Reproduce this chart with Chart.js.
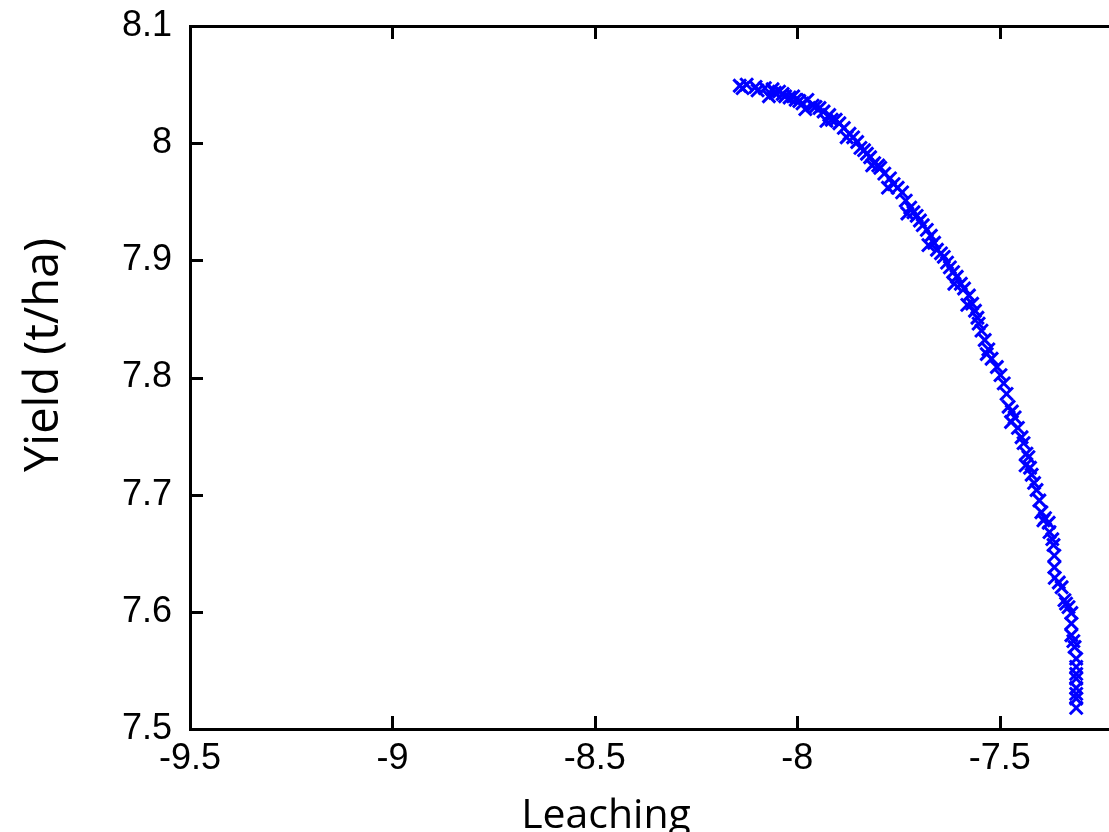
<!DOCTYPE html>
<html>
<head>
<meta charset="utf-8">
<script src="https://cdn.jsdelivr.net/npm/chart.js@4.4.1/dist/chart.umd.min.js"></script>
<style>
html, body { margin: 0; padding: 0; background: #fff; overflow: hidden; }
</style>
</head>
<body>
<canvas id="canvas" width="1109" height="832"></canvas>
<script>
const leaching = [
    -8.142, -8.135, -8.125, -8.103, -8.098, -8.080, -8.061, -8.055, -8.045, -8.036,
    -8.030, -8.019, -8.010, -8.004, -7.995, -7.987, -7.975, -7.962, -7.955, -7.945,
    -7.935, -7.921, -7.915, -7.905, -7.896, -7.885, -7.871, -7.862, -7.852, -7.844,
    -7.835, -7.828, -7.820, -7.810, -7.800, -7.795, -7.785, -7.771, -7.762, -7.752,
    -7.741, -7.732, -7.721, -7.713, -7.705, -7.697, -7.690, -7.680, -7.670, -7.662,
    -7.655, -7.645, -7.638, -7.630, -7.623, -7.615, -7.606, -7.596, -7.588, -7.576,
    -7.568, -7.561, -7.555, -7.552, -7.545, -7.537, -7.528, -7.520, -7.507, -7.498,
    -7.490, -7.483, -7.478, -7.470, -7.463, -7.455, -7.446, -7.441, -7.434, -7.429,
    -7.425, -7.421, -7.415, -7.409, -7.402, -7.397, -7.388, -7.379, -7.377, -7.370,
    -7.367, -7.365, -7.365, -7.364, -7.354, -7.347, -7.340, -7.336, -7.330, -7.323,
    -7.323, -7.323, -7.318, -7.315, -7.311, -7.311, -7.311, -7.311, -7.311, -7.311,
    -7.311, -7.311,
    -8.070, -7.980, -7.928, -7.878, -7.815, -7.776, -7.728, -7.676, -7.612, -7.580,
    -7.532, -7.472, -7.436, -7.392
]
const yieldTha = [
    8.049, 8.047, 8.050, 8.048, 8.045, 8.047, 8.046, 8.043, 8.044, 8.042,
    8.040, 8.039, 8.040, 8.037, 8.036, 8.034, 8.037, 8.032, 8.031, 8.030,
    8.027, 8.024, 8.020, 8.020, 8.017, 8.013, 8.008, 8.005, 8.001, 7.996,
    7.994, 7.991, 7.988, 7.983, 7.981, 7.979, 7.974, 7.970, 7.965, 7.962,
    7.958, 7.951, 7.945, 7.941, 7.938, 7.934, 7.930, 7.926, 7.921, 7.915,
    7.909, 7.906, 7.903, 7.898, 7.894, 7.890, 7.886, 7.880, 7.876, 7.870,
    7.863, 7.857, 7.851, 7.846, 7.840, 7.832, 7.824, 7.816, 7.809, 7.802,
    7.795, 7.786, 7.775, 7.771, 7.766, 7.757, 7.749, 7.744, 7.735, 7.732,
    7.723, 7.717, 7.710, 7.704, 7.695, 7.685, 7.680, 7.676, 7.668, 7.662,
    7.657, 7.648, 7.638, 7.629, 7.625, 7.621, 7.610, 7.607, 7.604, 7.599,
    7.590, 7.580, 7.575, 7.570, 7.560, 7.553, 7.547, 7.543, 7.535, 7.530,
    7.526, 7.518,
    8.040, 8.029, 8.019, 8.005, 7.981, 7.962, 7.940, 7.913, 7.880, 7.862,
    7.820, 7.762, 7.725, 7.678
]

const xTicks = [-9.5, -9, -8.5, -8, -7.5]
const yTicks = [7.5, 7.6, 7.7, 7.8, 7.9, 8, 8.1]
const xTitle = 'Leaching'
const yTitle = 'Yield (t/ha)'

const points = leaching.map((x, i) => ({ x: x, y: yieldTha[i] }))

// tick marks pointing into the plot, on the bottom, top and left edges
const inwardTicks = {
    id: 'inwardTicks',
    afterDraw(chart) {
        const { ctx, chartArea, scales } = chart
        const len = 13
        ctx.save()
        ctx.strokeStyle = '#000'
        ctx.lineWidth = 3
        ctx.beginPath()
        xTicks.forEach(v => {
            const px = Math.round(scales.x.getPixelForValue(v)) + 0.5
            ctx.moveTo(px, chartArea.bottom)
            ctx.lineTo(px, chartArea.bottom - len)
            ctx.moveTo(px, chartArea.top)
            ctx.lineTo(px, chartArea.top + len)
        })
        yTicks.forEach(v => {
            const py = Math.round(scales.y.getPixelForValue(v)) + 0.5
            ctx.moveTo(chartArea.left, py)
            ctx.lineTo(chartArea.left + len, py)
        })
        ctx.stroke()
        ctx.restore()
    }
}

// axis titles, placed by hand like the slide they came from
const axisTitles = {
    id: 'axisTitles',
    afterDraw(chart) {
        const { ctx } = chart
        ctx.save()
        ctx.fillStyle = '#000'
        ctx.textAlign = 'center'
        ctx.textBaseline = 'alphabetic'
        ctx.font = '41px "Open Sans"'
        ctx.fillText(xTitle, 606, 828)
        ctx.translate(58, 355)
        ctx.rotate(-Math.PI / 2)
        ctx.font = '47px "Open Sans"'
        ctx.fillText(yTitle, 0, 0)
        ctx.restore()
    }
}

const axisBorder = { display: true, color: '#000', width: 3 }
const tickFont = { family: 'Liberation Sans', size: 36 }

new Chart(document.getElementById('canvas'), {
    type: 'scatter',
    data: {
        datasets: [{
            data: points,
            pointStyle: 'crossRot',
            pointRadius: 9,
            pointHoverRadius: 9,
            borderColor: 'rgb(0, 0, 255)',
            backgroundColor: 'rgb(0, 0, 255)',
            pointBorderWidth: 3,
            xAxisID: 'x',
            yAxisID: 'y',
        }],
    },
    options: {
        responsive: false,
        animation: false,
        devicePixelRatio: 1,
        layout: { padding: 0, autoPadding: false },
        plugins: {
            legend: { display: false },
            tooltip: { enabled: false },
        },
        scales: {
            x: {
                type: 'linear',
                position: 'bottom',
                min: -9.5,
                max: -7.23,
                afterBuildTicks: axis => { axis.ticks = xTicks.map(v => ({ value: v })) },
                afterFit: axis => {
                    axis.height = 103
                    axis.paddingLeft = 0
                    axis.paddingRight = 0
                },
                grid: { display: false, drawTicks: false },
                border: axisBorder,
                ticks: {
                    color: '#000',
                    font: tickFont,
                    padding: 8,
                    maxRotation: 0,
                    autoSkip: false,
                    callback: v => String(v),
                },
            },
            x2: {
                type: 'linear',
                position: 'top',
                min: -9.5,
                max: -7.23,
                afterFit: axis => {
                    axis.height = 26
                    axis.paddingLeft = 0
                    axis.paddingRight = 0
                },
                grid: { display: false, drawTicks: false },
                border: axisBorder,
                ticks: { display: false },
            },
            y: {
                type: 'linear',
                position: 'left',
                min: 7.5,
                max: 8.1,
                afterBuildTicks: axis => { axis.ticks = yTicks.map(v => ({ value: v })) },
                afterFit: axis => {
                    axis.width = 190
                    axis.paddingTop = 0
                    axis.paddingBottom = 0
                },
                grid: { display: false, drawTicks: false },
                border: axisBorder,
                ticks: {
                    color: '#000',
                    font: tickFont,
                    padding: 18,
                    autoSkip: false,
                    callback: v => String(v),
                },
            },
        },
    },
    plugins: [inwardTicks, axisTitles],
});
</script>
</body>
</html>
